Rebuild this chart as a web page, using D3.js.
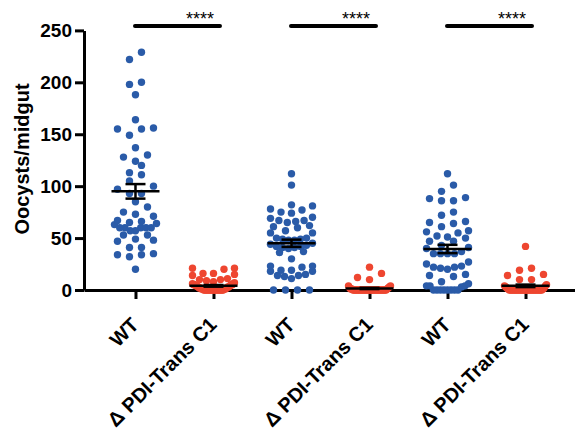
<!DOCTYPE html>
<html>
<head>
<meta charset="utf-8">
<script src="https://cdnjs.cloudflare.com/ajax/libs/d3/7.8.5/d3.min.js"></script>
<style>
  body { margin: 0; background: #fff; }
  text { font-family: "Liberation Sans", Arial, sans-serif; }
</style>
</head>
<body>
<script>
// categories on the x axis (WT repeats, so the scale works on the index)
var groups = ["WT", "\u0394 PDI-Trans C1", "WT", "\u0394 PDI-Trans C1", "WT", "\u0394 PDI-Trans C1"];
var groupColors = ["#2a5ba8", "#ee4630", "#2a5ba8", "#ee4630", "#2a5ba8", "#ee4630"];

// oocysts per midgut
var wt1 = [229, 222, 200, 198, 188, 164, 156, 155, 155, 149, 137, 130, 128, 124, 120, 113, 111, 105,
  100, 97, 93, 93, 85, 80, 75, 73, 71, 67, 66, 65, 64, 63, 60, 60, 60, 60, 60, 57, 57, 53, 53, 49,
  48, 47, 41, 41, 35, 34, 34, 32, 20];
var mut1 = [21, 21, 20, 16, 16, 15, 14, 11, 10, 10, 9, 8, 7, 6, 6, 5, 5, 5, 5, 4, 4, 4, 3, 3, 3, 2,
  2, 2, 1, 1, 1, 1, 0, 0, 0, 0, 0, 0, 0, 0, 0, 0, 0, 0, 0, 0, 0, 0, 0, 0];
var wt2 = [112, 101, 82, 81, 78, 77, 75, 74, 70, 69, 67, 67, 66, 65, 62, 61, 60, 57, 55, 55, 50, 50,
  49, 49, 48, 48, 45, 44, 43, 42, 42, 41, 41, 40, 37, 36, 30, 23, 22, 23, 19, 19, 18, 18, 15, 14,
  14, 13, 11, 0, 0, 0, 0];
var mut2 = [22, 16, 12, 10, 4, 4, 3, 2, 2, 1, 1, 1, 0, 0, 0, 0, 0, 0, 0, 0, 0, 0, 0, 0, 0, 0, 0, 0,
  0, 0, 0, 0, 0, 0, 0, 0, 0, 0, 0, 0, 0, 0];
var wt3 = [112, 101, 95, 89, 88, 86, 86, 75, 72, 66, 65, 64, 61, 57, 56, 55, 52, 51, 50, 47, 47, 43,
  41, 40, 37, 35, 35, 35, 35, 27, 25, 23, 22, 22, 21, 20, 15, 14, 13, 8, 6, 4, 4, 4, 3, 0, 0, 0, 0,
  0, 0, 0, 0];
var mut3 = [42, 21, 19, 15, 14, 10, 10, 5, 4, 4, 3, 2, 2, 1, 1, 0, 0, 0, 0, 0, 0, 0, 0, 0, 0, 0, 0,
  0, 0, 0, 0, 0, 0, 0, 0, 0, 0, 0, 0, 0, 0, 0, 0];
var allValues = [wt1, mut1, wt2, mut2, wt3, mut3];

// mean +/- SEM bars as drawn
var means = [95, 4, 45, 1.5, 39.5, 4];
var sems = [7, 0.8, 3.5, 0.6, 4, 1.2];

var yTicks = [0, 50, 100, 150, 200, 250];
var sigPairs = [[0, 1], [2, 3], [4, 5]];
var sigLabels = ["****", "****", "****"];

var width = 575, height = 443;
var dotR = 3.7, maxStep = 12, maxHalf = 21, rowHeight = 7.3;

var svg = d3.select("body").append("svg")
    .attr("width", width)
    .attr("height", height);

var x = d3.scalePoint()
    .domain(d3.range(groups.length))
    .range([84, 577])
    .padding(0.66);

var y = d3.scaleLinear()
    .domain([0, 250])
    .range([290, 30.4]);

/**
  Spread the points of one group in rows, lowest values in the middle of a row
*/
function swarm(values, gi) {
  var sorted = values.slice().sort(d3.ascending);
  var rows = [], row = null;
  sorted.forEach(function(v) {
    if (!row || y(row[0]) - y(v) > rowHeight) { row = []; rows.push(row); }
    row.push(v);
  });
  var pts = [];
  rows.forEach(function(r) {
    var n = r.length;
    var step = n > 1 ? Math.min(maxStep, 2 * maxHalf / (n - 1)) : 0;
    r.forEach(function(v, i) {
      var k;
      if (n % 2) k = i === 0 ? 0 : Math.ceil(i / 2) * (i % 2 ? -1 : 1);
      else k = (Math.floor(i / 2) + 0.5) * (i % 2 ? 1 : -1);
      pts.push({value: v, group: gi, cx: x(gi) + k * step, cy: y(v)});
    });
  });
  return pts;
}

var points = [];
allValues.forEach(function(vals, gi) { points = points.concat(swarm(vals, gi)); });

// y axis
var yAxis = svg.append("g")
    .attr("transform", "translate(84,0)")
    .call(d3.axisLeft(y).tickValues(yTicks).tickSize(9).tickSizeOuter(0).tickPadding(3));

// x axis
var xAxis = svg.append("g")
    .attr("transform", "translate(0,290)")
    .call(d3.axisBottom(x).tickSize(9).tickSizeOuter(0).tickFormat(function(i) { return groups[i]; }));

xAxis.selectAll(".tick text")
    .attr("y", null)
    .attr("dy", null)
    .style("text-anchor", "end")
    .attr("transform", "translate(4,36) rotate(-45)");

svg.selectAll(".domain, .tick line")
    .attr("stroke", "#000")
    .attr("stroke-width", 3);

svg.selectAll(".tick text")
    .attr("fill", "#000")
    .style("font-weight", "bold");
yAxis.selectAll(".tick text").style("font-size", "19px");
xAxis.selectAll(".tick text").style("font-size", "20px");

// y axis title
svg.append("text")
    .attr("transform", "translate(29,159) rotate(-90)")
    .attr("text-anchor", "middle")
    .style("font-size", "20px")
    .style("font-weight", "bold")
    .text("Oocysts/midgut");

// dots
svg.selectAll(".dot")
    .data(points)
  .enter().append("circle")
    .attr("class", "dot")
    .attr("r", dotR)
    .attr("cx", function(d) { return d.cx; })
    .attr("cy", function(d) { return d.cy; })
    .style("fill", function(d) { return groupColors[d.group]; });

// mean and SEM
var stats = svg.selectAll(".stat")
    .data(means)
  .enter().append("g")
    .attr("class", "stat")
    .attr("stroke", "#000")
    .attr("stroke-width", 2.5);

stats.append("line")
    .attr("x1", function(d, i) { return x(i) - 24; })
    .attr("x2", function(d, i) { return x(i) + 24; })
    .attr("y1", function(d) { return y(d); })
    .attr("y2", function(d) { return y(d); });

stats.append("line")
    .attr("x1", function(d, i) { return x(i); })
    .attr("x2", function(d, i) { return x(i); })
    .attr("y1", function(d, i) { return y(d + sems[i]); })
    .attr("y2", function(d, i) { return y(d - sems[i]); });

[1, -1].forEach(function(s) {
  stats.append("line")
      .attr("x1", function(d, i) { return x(i) - 10; })
      .attr("x2", function(d, i) { return x(i) + 10; })
      .attr("y1", function(d, i) { return y(d + s * sems[i]); })
      .attr("y2", function(d, i) { return y(d + s * sems[i]); });
});

// significance bars
svg.selectAll(".sig")
    .data(sigPairs)
  .enter().append("line")
    .attr("class", "sig")
    .attr("x1", function(d) { return x(d[0]) - 0.5; })
    .attr("x2", function(d) { return x(d[1]) + 6.5; })
    .attr("y1", 26)
    .attr("y2", 26)
    .attr("stroke", "#000")
    .attr("stroke-width", 4)
    .attr("stroke-linecap", "round");

svg.selectAll(".stars")
    .data(sigPairs)
  .enter().append("text")
    .attr("class", "stars")
    .attr("x", function(d) { return x(d[1]) - 13.5; })
    .attr("y", 25)
    .attr("text-anchor", "middle")
    .style("font-size", "18px")
    .text(function(d, i) { return sigLabels[i]; });
</script>
</body>
</html>
